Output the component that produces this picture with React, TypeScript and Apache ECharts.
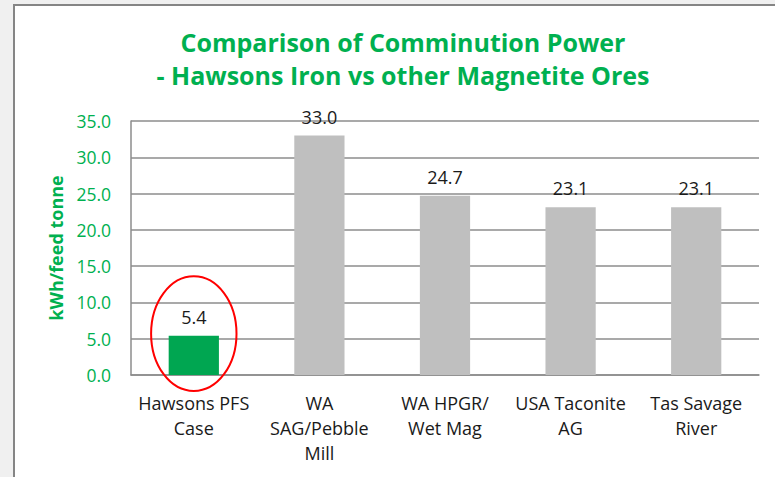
import React, { useEffect, useRef } from "react";
import * as echarts from "echarts";

const categories = [
  "Hawsons PFS\nCase",
  "WA\nSAG/Pebble\nMill",
  "WA HPGR/\nWet Mag",
  "USA Taconite\nAG",
  "Tas Savage\nRiver",
];
const values = [5.4, 33.0, 24.7, 23.1, 23.1];
const barColors = ["#00A651", "#BFBFBF", "#BFBFBF", "#BFBFBF", "#BFBFBF"];
const titleLines = ["Comparison of Comminution Power", "- Hawsons Iron vs other Magnetite Ores"];
const yAxisName = "kWh/feed tonne";
const highlightIndex = 0;
// ellipse annotation in data terms: center value, top value, bottom value, half-width as fraction of band
const ellipseCenterValue = 5.7;
const ellipseTopValue = 13.6;
const ellipseBottomValue = -2.2;
const ellipseHalfWidthFrac = 0.34;

const FONT = "'Open Sans', sans-serif";
const GREEN = "#00B050";

export default function App() {
  const ref = useRef<HTMLDivElement>(null);
  useEffect(() => {
    if (!ref.current) return;
    const chart = echarts.init(ref.current, undefined, { renderer: "svg" });
    chart.setOption({
      animation: false,
      backgroundColor: "transparent",
      textStyle: { fontFamily: FONT },
      title: {
        text: titleLines.join("\n"),
        left: 398,
        textAlign: "center",
        top: 20,
        textStyle: {
          fontFamily: FONT,
          fontSize: 25,
          fontWeight: "bold",
          color: GREEN,
          lineHeight: 33,
        },
      },
      grid: { left: 131, right: 16, top: 121, bottom: 102 },
      xAxis: {
        type: "category",
        data: categories,
        axisLine: { lineStyle: { color: "#8C8C8C", width: 1.5 } },
        axisTick: { show: false },
        axisLabel: {
          color: "#1a1a1a",
          fontSize: 18,
          fontFamily: FONT,
          lineHeight: 25,
          margin: 15,
          interval: 0,
        },
      },
      yAxis: {
        type: "value",
        min: 0,
        max: 35,
        interval: 5,
        name: yAxisName,
        nameLocation: "middle",
        nameGap: 66,
        nameRotate: 90,
        nameTextStyle: { color: GREEN, fontWeight: "bold", fontSize: 18, fontFamily: FONT },
        axisLine: { show: true, lineStyle: { color: "#8C8C8C", width: 1.5 } },
        axisTick: { show: false },
        axisLabel: {
          color: GREEN,
          fontSize: 17.5,
          fontFamily: FONT,
          margin: 20,
          formatter: (v: number) => v.toFixed(1),
        },
        splitLine: { lineStyle: { color: "#8C8C8C", width: 1.5 } },
      },
      series: [
        {
          type: "bar",
          data: values.map((v, i) => ({ value: v, itemStyle: { color: barColors[i] } })),
          barWidth: "40%",
          label: {
            show: true,
            position: "top",
            distance: 10,
            color: "#1a1a1a",
            fontSize: 18,
            fontFamily: FONT,
            formatter: (p: any) => Number(p.value).toFixed(1),
          },
        },
      ],
    });
    const c0 = chart.convertToPixel({ seriesIndex: 0 }, [highlightIndex, ellipseCenterValue]) as number[];
    const c1 = chart.convertToPixel({ seriesIndex: 0 }, [highlightIndex + 1, ellipseCenterValue]) as number[];
    const top = chart.convertToPixel({ seriesIndex: 0 }, [highlightIndex, ellipseTopValue]) as number[];
    const bot = chart.convertToPixel({ seriesIndex: 0 }, [highlightIndex, ellipseBottomValue]) as number[];
    const band = c1[0] - c0[0];
    chart.setOption({
      graphic: [
        {
          type: "ellipse",
          shape: {
            cx: c0[0],
            cy: (top[1] + bot[1]) / 2,
            rx: band * ellipseHalfWidthFrac,
            ry: (bot[1] - top[1]) / 2,
          },
          style: { fill: "none", stroke: "#FF0000", lineWidth: 2 },
          z: 100,
        },
      ],
    });
    return () => chart.dispose();
  }, []);
  return (
    <div style={{ position: "fixed", left: 0, top: 0, width: 775, height: 477, background: "#F0F0F0", overflow: "hidden" }}>
      <div
        style={{
          position: "absolute",
          left: 13,
          top: 4,
          right: 0,
          bottom: 0,
          background: "#FFFFFF",
          borderLeft: "2px solid #858585",
          borderTop: "2px solid #858585",
        }}
      />
      <div ref={ref} style={{ position: "absolute", left: 0, top: 0, width: 775, height: 477 }} />
    </div>
  );
}
